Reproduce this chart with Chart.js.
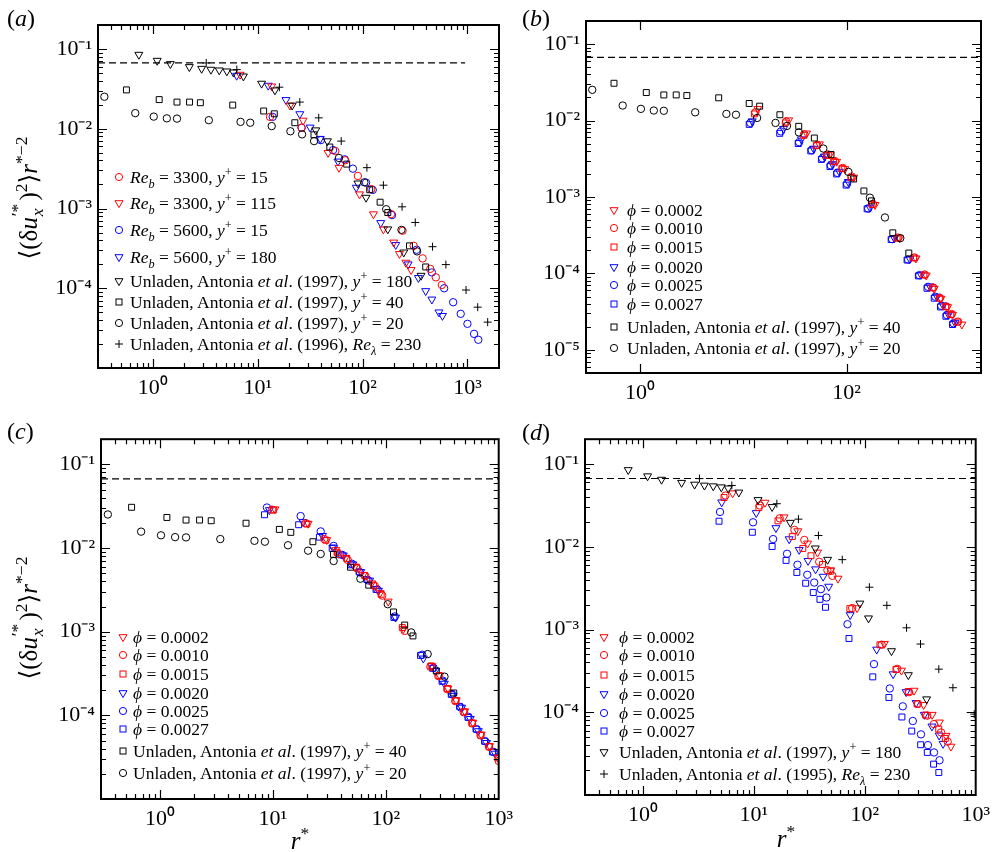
<!DOCTYPE html>
<html>
<head>
<meta charset="utf-8">
<title>Second-order structure function</title>
<script src="https://cdn.jsdelivr.net/npm/chart.js@4.4.1/dist/chart.umd.min.js"></script>
<style>
  html, body { margin: 0; padding: 0; background: #fff; }
  body { position: relative; width: 997px; height: 852px; overflow: hidden;
         font-family: "Liberation Serif", "DejaVu Serif", serif; color: #000; }
  canvas { position: absolute; }
  .txt { position: absolute; white-space: nowrap; }
  .tag { font-size: 24px; line-height: 24px; }
  .ytitle { font-size: 25px; line-height: 25px; transform: translate(-50%, -50%) rotate(-90deg); }
  .xtitle { font-size: 25px; line-height: 25px; transform: translate(-50%, -50%); }
  .row { position: absolute; height: 20px; display: flex; align-items: center;
         white-space: nowrap; font-size: 17.5px; line-height: 20px; }
  .row svg { flex: none; }
  sub, sup { font-size: 0.7em; line-height: 0; }
  .ss { display: inline-block; position: relative; width: 0.95em; height: 1em; font-size: 0.7em; }
  .ss .sp { position: absolute; left: 0.05em; top: -0.6em; line-height: 1; }
  .ss .sb { position: absolute; left: 0.05em; top: 0.55em; line-height: 1; }
</style>
</head>
<body>
<canvas id="pa"></canvas>
<canvas id="pb"></canvas>
<canvas id="pc"></canvas>
<canvas id="pd"></canvas>

<div class="txt tag" style="left:7px; top:6px">(<i>a</i>)</div>
<div class="txt tag" style="left:522px; top:6px">(<i>b</i>)</div>
<div class="txt tag" style="left:7px; top:419px">(<i>c</i>)</div>
<div class="txt tag" style="left:522px; top:420px">(<i>d</i>)</div>

<div class="txt ytitle" style="left:28px; top:198px">⟨(δ<i>u</i><span class="ss"><span class="sp">′*</span><span class="sb"><i>x</i></span></span>)<sup>2</sup>⟩<i>r</i><sup>*−2</sup></div>
<div class="txt ytitle" style="left:28px; top:618px">⟨(δ<i>u</i><span class="ss"><span class="sp">′*</span><span class="sb"><i>x</i></span></span>)<sup>2</sup>⟩<i>r</i><sup>*−2</sup></div>
<div class="txt xtitle" style="left:300px; top:840px"><i>r</i><sup>*</sup></div>
<div class="txt xtitle" style="left:786px; top:838px"><i>r</i><sup>*</sup></div>

<div id="legends"></div>

<script>
// ---- axis ranges and tick labels ----
const xRangeA = [0.3, 2000], yRangeA = [1e-5, 0.2];
const xRangeB = [0.3, 2000], yRangeB = [5e-6, 0.2];
const xRangeC = [0.3, 1000], yRangeC = [1e-5, 0.2];
const xRangeD = [0.3, 1000], yRangeD = [1e-5, 0.2];
const xTicksA = [1, 10, 100, 1000], yTicksA = [1e-1, 1e-2, 1e-3, 1e-4];
const xTicksB = [1, 100], yTicksB = [1e-1, 1e-2, 1e-3, 1e-4, 1e-5];
const xTicksC = [1, 10, 100, 1000], yTicksC = [1e-1, 1e-2, 1e-3, 1e-4];
const xTicksD = [1, 10, 100, 1000], yTicksD = [1e-1, 1e-2, 1e-3, 1e-4];

// dashed plateau level
const plateauY = 0.067;

// ---- unladen reference data (Antonia et al.) ----
const unl180X = [0.736, 1.10, 1.47, 2.23, 2.92, 3.58, 4.30, 5.08, 5.87, 7.31, 10.9, 14.6, 21.3, 35.8, 46.2, 90.3, 108, 174, 247, 361];
const unl180Y = [0.085, 0.0715, 0.065, 0.0596, 0.0567, 0.0552, 0.0541, 0.0526, 0.051, 0.0455, 0.0369, 0.0304, 0.0196, 0.0096, 0.0070, 0.00207, 0.00137, 0.00055, 0.000282, 0.000144];
const unl40X = [0.56, 1.15, 1.70, 2.24, 2.84, 5.78, 11.4, 14.4, 22.6, 34.4, 48.7, 70.6, 117, 147, 174, 280, 400];
const unl40Y = [0.0307, 0.0232, 0.0216, 0.0216, 0.0212, 0.0198, 0.0167, 0.0154, 0.0119, 0.0084, 0.0059, 0.0036, 0.00172, 0.0012, 0.00089, 0.00034, 0.000185];
const unl20X = [0.345, 0.68, 1.02, 1.36, 1.70, 3.42, 6.86, 8.49, 13.6, 20.5, 26.5, 34.5, 59.5, 104, 168, 235, 331];
const unl20Y = [0.0252, 0.0157, 0.0142, 0.0135, 0.0134, 0.0128, 0.0122, 0.0119, 0.0108, 0.0093, 0.0085, 0.0070, 0.0043, 0.00213, 0.00098, 0.00054, 0.00029];
const unl230X = [3.23, 6.32, 16.1, 25.2, 38.2, 62.6, 110, 158, 238, 318, 465, 623, 970, 1253, 1560];
const unl230Y = [0.0668, 0.0552, 0.0332, 0.0216, 0.0137, 0.0070, 0.00325, 0.00196, 0.00105, 0.000668, 0.000332, 0.000198, 0.000095, 0.0000579, 0.0000376];

// ---- panel (a): two Reynolds numbers ----
const a3300y15X = [13.1, 26.2, 55, 68.4, 90.2, 121, 187, 241, 307, 374, 442, 500, 570];
const a3300y15Y = [0.0141, 0.0103, 0.00526, 0.00402, 0.00256, 0.00175, 0.00085, 0.000526, 0.000341, 0.000237, 0.000175, 0.000137, 0.00011];
const a3300y115X = [6.8, 13.6, 20.3, 27.1, 46.9, 59.6, 93.6, 127, 158, 198, 225, 259, 290];
const a3300y115Y = [0.0478, 0.0341, 0.0196, 0.0127, 0.0050, 0.00325, 0.00151, 0.00085, 0.00055, 0.000376, 0.00027, 0.00021, 0.00017];
const a5600y15X = [13.9, 26.2, 40, 52.3, 67.4, 80.9, 108, 125, 191, 328, 458, 600, 731, 863, 1000, 1157, 1270];
const a5600y15Y = [0.0141, 0.0103, 0.0072, 0.0054, 0.00414, 0.00316, 0.00211, 0.00171, 0.000826, 0.000304, 0.000158, 0.0001, 0.0000668, 0.0000478, 0.0000358, 0.0000268, 0.0000226];
const a5600y180X = [6.3, 12.6, 18.6, 25.2, 31.6, 39.5, 58.3, 87, 149, 207, 272, 341, 400, 458, 535, 578];
const a5600y180Y = [0.0464, 0.0348, 0.023, 0.0153, 0.0104, 0.0075, 0.0039, 0.00183, 0.00066, 0.00035, 0.0002, 0.000135, 0.0000925, 0.0000725, 0.00005, 0.0000452];

// ---- panel (b) ----
const b02X = [13.8, 27.5, 41, 54.5, 69, 80, 96, 117, 188, 326, 470, 590, 705, 820, 950, 1060, 1306];
const b02Y = [0.0142, 0.0101, 0.0068, 0.0049, 0.0036, 0.0029, 0.00233, 0.0018, 0.00079, 0.00029, 0.000158, 0.0000945, 0.0000635, 0.000047, 0.0000365, 0.000029, 0.0000216];
const b10X = [13.1, 26, 39, 52, 66, 77, 92, 112, 180, 314, 455, 570, 690, 800, 925, 1040, 1200];
const b10Y = [0.0128, 0.0097, 0.0066, 0.0048, 0.0036, 0.00295, 0.0024, 0.00185, 0.00081, 0.000295, 0.000162, 0.000097, 0.0000655, 0.000048, 0.000037, 0.0000295, 0.0000235];
const b15X = [12.8, 25.5, 38.5, 51, 64, 75, 90, 110, 176, 308, 445, 560, 675, 790, 910, 1020, 1180];
const b15Y = [0.0122, 0.0093, 0.0064, 0.0047, 0.0035, 0.0029, 0.00235, 0.0018, 0.0008, 0.00029, 0.00016, 0.0000955, 0.000065, 0.0000475, 0.0000368, 0.0000292, 0.0000232];
const b20X = [12.2, 24.5, 36.5, 48, 61, 73, 85, 104, 168, 290, 410, 525, 640, 750, 860, 970, 1120];
const b20Y = [0.0098, 0.0078, 0.0057, 0.0043, 0.0034, 0.0027, 0.00215, 0.00158, 0.00073, 0.00029, 0.000155, 0.0000965, 0.000068, 0.00005, 0.0000385, 0.0000292, 0.0000228];
const b25X = [11.7, 23.1, 34.7, 45.9, 58.2, 70.1, 81.3, 101, 162, 276, 394, 506, 614, 722, 825, 936, 1084];
const b25Y = [0.0093, 0.0072, 0.0052, 0.0041, 0.0032, 0.0026, 0.00207, 0.00149, 0.000705, 0.000281, 0.000152, 0.000095, 0.0000669, 0.0000497, 0.0000378, 0.0000286, 0.0000223];
const b27X = [11.4, 22.5, 34, 45, 57, 69, 80, 99, 158, 270, 385, 495, 600, 705, 810, 915, 1060];
const b27Y = [0.0089, 0.0068, 0.005, 0.004, 0.0031, 0.0025, 0.002, 0.00143, 0.0007, 0.000278, 0.00015, 0.000093, 0.000064, 0.0000475, 0.0000365, 0.0000276, 0.0000215];

// ---- panel (c) ----
const c02X = [10.4, 20.5, 30, 36, 44, 53, 63, 75, 89, 105, 143, 255, 300, 355, 420, 500, 590, 700, 830, 990];
const c02Y = [0.0291, 0.0196, 0.0125, 0.0095, 0.0077, 0.0060, 0.0048, 0.0038, 0.0029, 0.0023, 0.00108, 0.00039, 0.0003, 0.00021, 0.000152, 0.000112, 0.000082, 0.000059, 0.000043, 0.000031];
const c10X = [9.8, 19.5, 28.5, 38, 46, 56, 66, 80, 93, 147, 248, 292, 350, 412, 490, 580, 690, 820, 1000];
const c10Y = [0.0288, 0.0198, 0.0128, 0.0085, 0.0072, 0.0057, 0.0046, 0.0035, 0.0027, 0.00102, 0.00038, 0.000295, 0.000205, 0.000148, 0.000109, 0.00008, 0.0000575, 0.000042, 0.0000285];
const c15X = [10.1, 20, 29.5, 37, 45, 55, 65, 78, 91, 140, 252, 296, 352, 418, 495, 585, 695, 825, 985];
const c15Y = [0.0286, 0.0194, 0.0124, 0.0089, 0.0075, 0.0059, 0.0047, 0.0036, 0.0028, 0.00112, 0.00039, 0.0003, 0.00021, 0.00015, 0.00011, 0.000081, 0.000058, 0.0000425, 0.000031];
const c20X = [9.3, 18.5, 27.5, 34, 42, 51, 60, 72, 86, 122, 215, 275, 330, 395, 470, 560, 660, 780, 930];
const c20Y = [0.0285, 0.0205, 0.014, 0.0102, 0.0082, 0.0064, 0.0052, 0.0041, 0.0031, 0.00148, 0.00048, 0.00034, 0.00024, 0.000172, 0.000124, 0.000091, 0.000065, 0.000047, 0.000035];
const c25X = [8.85, 17.6, 26.5, 34.5, 41, 50, 59, 70, 84, 120, 210, 265, 320, 385, 460, 540, 640, 760, 900];
const c25Y = [0.0305, 0.0241, 0.0158, 0.0106, 0.0083, 0.0065, 0.0051, 0.0041, 0.0032, 0.00152, 0.00053, 0.00037, 0.00026, 0.00018, 0.000124, 0.000096, 0.000068, 0.000049, 0.0000365];
const c27X = [8.43, 16.9, 25.8, 33.5, 40, 49, 58, 68, 82, 118, 203, 260, 315, 380, 450, 535, 630, 750, 880];
const c27Y = [0.025, 0.019, 0.0135, 0.0099, 0.0083, 0.0063, 0.0052, 0.0042, 0.0032, 0.00148, 0.00052, 0.000365, 0.000255, 0.000178, 0.000128, 0.0000945, 0.0000685, 0.000049, 0.0000365];

// ---- panel (d) ----
const d02X = [6.43, 12.6, 18.7, 24.9, 30.5, 37.5, 49.3, 57.3, 85.2, 150, 214, 278, 339, 405, 471, 540, 598];
const d02Y = [0.0445, 0.0343, 0.0228, 0.0155, 0.011, 0.00856, 0.00522, 0.00414, 0.00182, 0.000674, 0.00032, 0.000183, 0.000123, 0.0000935, 0.0000755, 0.0000521, 0.0000386];
const d10X = [5.53, 11.3, 17.1, 23.2, 28.5, 38.8, 46, 51, 76.9, 142, 196, 251, 302, 366, 420, 487, 559];
const d10Y = [0.0417, 0.0316, 0.0221, 0.016, 0.0121, 0.00659, 0.00522, 0.00446, 0.00182, 0.000655, 0.000335, 0.000175, 0.000126, 0.000091, 0.000072, 0.0000571, 0.0000441];
const d15X = [5.38, 11.1, 16.5, 22.2, 27.6, 32.7, 41.6, 49.3, 73.3, 137, 191, 246, 296, 353, 464, 532];
const d15Y = [0.0394, 0.0298, 0.0206, 0.0133, 0.00957, 0.0078, 0.00612, 0.00508, 0.00179, 0.000655, 0.000329, 0.000178, 0.000126, 0.0000927, 0.0000627, 0.0000483];
const d20X = [5.13, 10.5, 15.8, 20.8, 25.6, 30.8, 36, 42.1, 47.3, 73.8, 128, 180, 236, 290, 344, 403, 468, 508];
const d20Y = [0.0346, 0.0257, 0.0169, 0.0124, 0.00922, 0.00678, 0.00537, 0.00437, 0.00331, 0.0015, 0.000575, 0.000289, 0.000176, 0.00013, 0.0000935, 0.0000676, 0.0000526, 0.0000417];
const d25X = [4.95, 9.82, 14.9, 19.9, 24.7, 30.3, 35, 40.2, 45.1, 69.8, 121, 168, 220, 271, 321, 371, 421, 472];
const d25Y = [0.0264, 0.0198, 0.0124, 0.00824, 0.00607, 0.00459, 0.0037, 0.00308, 0.00244, 0.00116, 0.000382, 0.000194, 0.000118, 0.0000784, 0.0000541, 0.0000401, 0.0000327, 0.0000263];
const d27X = [4.85, 9.68, 14.6, 19.5, 24.4, 29.3, 34.3, 39.4, 44.2, 72, 118, 165, 216, 265, 319, 366, 417, 465];
const d27Y = [0.0204, 0.015, 0.0101, 0.00685, 0.0049, 0.00363, 0.0028, 0.00232, 0.00186, 0.00078, 0.000268, 0.000151, 0.0000877, 0.0000593, 0.0000405, 0.0000327, 0.0000236, 0.0000187];

// ---- styling ----
const red = '#ff0000', blue = '#0000ff', black = '#000000';
const tickFont = "'Liberation Serif', 'Times New Roman', serif";
const marks = {
  circ: { pointStyle: 'circle', pointRadius: 3.7, pointRotation: 0 },
  tri: { pointStyle: 'triangle', pointRadius: 4.6, pointRotation: 180 },
  sq: { pointStyle: 'rect', pointRadius: 4.2, pointRotation: 0 },
  plus: { pointStyle: 'cross', pointRadius: 4, pointRotation: 0 }
};

const supDigits = { '0': '⁰', '1': '¹', '2': '²', '3': '³', '4': '⁴', '5': '⁵', '6': '⁶', '-': '⁻' };
function powLabel(v) {
  const e = Math.round(Math.log10(v));
  return '10' + String(e).split('').map(c => supDigits[c]).join('');
}

function series(xs, ys, shape, color) {
  return Object.assign({
    type: 'scatter',
    data: xs.map((x, i) => ({ x: x, y: ys[i] })),
    borderColor: color,
    backgroundColor: 'rgba(0,0,0,0)',
    borderWidth: 1,
    showLine: false
  }, marks[shape]);
}

function dashed(x0, x1) {
  return {
    type: 'line',
    data: [{ x: x0, y: plateauY }, { x: x1, y: plateauY }],
    borderColor: black, borderWidth: 1.2, borderDash: [7, 4],
    pointRadius: 0, fill: false
  };
}

// tick positions along a log axis: majors from the label list, optional 2..9 minors
function logMarks(min, max, majors, withMinor) {
  const out = [];
  for (let n = Math.floor(Math.log10(min)); n <= Math.ceil(Math.log10(max)); n++) {
    for (let k = 1; k <= 9; k++) {
      const v = k * Math.pow(10, n);
      if (v <= min * 1.001 || v >= max * 0.999) continue;
      if (k === 1) {
        if (majors.some(m => Math.abs(m - v) / v < 1e-6)) out.push({ v: v, major: true });
        else if (withMinor) out.push({ v: v, major: true });
      } else if (withMinor) {
        out.push({ v: v, major: false });
      }
    }
  }
  return out;
}

// box frame with inward ticks on all four sides
const framePlugin = {
  id: 'frame',
  afterDatasetsDraw(chart, args, opts) {
    const { ctx, chartArea: a } = chart;
    const x = chart.scales.x, y = chart.scales.y;
    ctx.save();
    ctx.strokeStyle = '#000';
    ctx.lineWidth = 1.2;
    ctx.beginPath();
    logMarks(x.min, x.max, opts.xMajor, opts.xMinor).forEach(m => {
      const p = Math.round(x.getPixelForValue(m.v)) + 0.5;
      const len = m.major ? 9 : 5;
      ctx.moveTo(p, a.bottom); ctx.lineTo(p, a.bottom - len);
      ctx.moveTo(p, a.top); ctx.lineTo(p, a.top + len);
    });
    logMarks(y.min, y.max, opts.yMajor, true).forEach(m => {
      const p = Math.round(y.getPixelForValue(m.v)) + 0.5;
      const len = m.major ? 9 : 5;
      ctx.moveTo(a.left, p); ctx.lineTo(a.left + len, p);
      ctx.moveTo(a.right, p); ctx.lineTo(a.right - len, p);
    });
    ctx.stroke();
    ctx.lineWidth = 2;
    ctx.strokeRect(a.left, a.top, a.right - a.left, a.bottom - a.top);
    ctx.restore();
  }
};

function makePanel(p) {
  const cv = document.getElementById(p.id);
  cv.width = p.w;
  cv.height = p.h;
  cv.style.left = p.left + 'px';
  cv.style.top = p.top + 'px';
  cv.style.width = p.w + 'px';
  cv.style.height = p.h + 'px';
  return new Chart(cv.getContext('2d'), {
    type: 'scatter',
    data: { datasets: p.datasets },
    options: {
      responsive: false,
      animation: false,
      devicePixelRatio: 1,
      layout: { padding: p.pad },
      plugins: {
        legend: { display: false },
        tooltip: { enabled: false },
        frame: { xMajor: p.xTicks, yMajor: p.yTicks, xMinor: p.xMinor }
      },
      scales: {
        x: {
          type: 'logarithmic', min: p.xRange[0], max: p.xRange[1],
          grid: { display: false, drawTicks: false },
          border: { display: false },
          ticks: { font: { family: tickFont, size: 22 }, color: '#000', padding: 7,
                   autoSkip: false, maxRotation: 0, minRotation: 0, callback: v => powLabel(v) },
          afterBuildTicks: s => { s.ticks = p.xTicks.map(v => ({ value: v })); },
          afterFit: s => { s.height = p.xh; }
        },
        y: {
          type: 'logarithmic', min: p.yRange[0], max: p.yRange[1],
          grid: { display: false, drawTicks: false },
          border: { display: false },
          ticks: { font: { family: tickFont, size: 22 }, color: '#000', padding: 6,
                   autoSkip: false, callback: v => powLabel(v) },
          afterBuildTicks: s => { s.ticks = p.yTicks.map(v => ({ value: v })); },
          afterFit: s => { s.width = p.yw; }
        }
      }
    },
    plugins: [framePlugin]
  });
}

makePanel({
  id: 'pa', left: 0, top: 0, w: 520, h: 420,
  pad: { left: 10, top: 25, right: 21, bottom: 12 }, yw: 88, xh: 40,
  xRange: xRangeA, yRange: yRangeA, xTicks: xTicksA, yTicks: yTicksA, xMinor: true,
  datasets: [
    dashed(0.3, 950),
    series(unl180X, unl180Y, 'tri', black),
    series(unl40X, unl40Y, 'sq', black),
    series(unl20X, unl20Y, 'circ', black),
    series(unl230X, unl230Y, 'plus', black),
    series(a3300y15X, a3300y15Y, 'circ', red),
    series(a3300y115X, a3300y115Y, 'tri', red),
    series(a5600y15X, a5600y15Y, 'circ', blue),
    series(a5600y180X, a5600y180Y, 'tri', blue)
  ]
});

makePanel({
  id: 'pb', left: 520, top: 0, w: 477, h: 420,
  pad: { left: 0, top: 21, right: 16, bottom: 10 }, yw: 66, xh: 37,
  xRange: xRangeB, yRange: yRangeB, xTicks: xTicksB, yTicks: yTicksB, xMinor: false,
  datasets: [
    dashed(0.3, 2000),
    series(unl40X, unl40Y, 'sq', black),
    series(unl20X, unl20Y, 'circ', black),
    series(b02X, b02Y, 'tri', red),
    series(b10X, b10Y, 'circ', red),
    series(b15X, b15Y, 'sq', red),
    series(b20X, b20Y, 'tri', blue),
    series(b25X, b25Y, 'circ', blue),
    series(b27X, b27Y, 'sq', blue)
  ]
});

makePanel({
  id: 'pc', left: 0, top: 420, w: 520, h: 432,
  pad: { left: 10, top: 17, right: 21, bottom: 13 }, yw: 91, xh: 40,
  xRange: xRangeC, yRange: yRangeC, xTicks: xTicksC, yTicks: yTicksC, xMinor: true,
  datasets: [
    dashed(0.3, 1000),
    series(unl40X, unl40Y, 'sq', black),
    series(unl20X, unl20Y, 'circ', black),
    series(c02X, c02Y, 'tri', red),
    series(c10X, c10Y, 'circ', red),
    series(c15X, c15Y, 'sq', red),
    series(c20X, c20Y, 'tri', blue),
    series(c25X, c25Y, 'circ', blue),
    series(c27X, c27Y, 'sq', blue)
  ]
});

makePanel({
  id: 'pd', left: 520, top: 420, w: 477, h: 432,
  pad: { left: 0, top: 19, right: 16, bottom: 17 }, yw: 65, xh: 40,
  xRange: xRangeD, yRange: yRangeD, xTicks: xTicksD, yTicks: yTicksD, xMinor: true,
  datasets: [
    dashed(0.3, 1000),
    series(unl180X, unl180Y, 'tri', black),
    series(unl230X, unl230Y, 'plus', black),
    series(d02X, d02Y, 'tri', red),
    series(d10X, d10Y, 'circ', red),
    series(d15X, d15Y, 'sq', red),
    series(d20X, d20Y, 'tri', blue),
    series(d25X, d25Y, 'circ', blue),
    series(d27X, d27Y, 'sq', blue)
  ]
});

// ---- legends (HTML text, small SVG markers) ----
const yPlus = '<i>y</i><sup>+</sup>';
const etal = 'Unladen, Antonia <i>et al</i>.';
const phiRows = [
  ['tri', red, '<i>ϕ</i> = 0.0002'],
  ['circ', red, '<i>ϕ</i> = 0.0010'],
  ['sq', red, '<i>ϕ</i> = 0.0015'],
  ['tri', blue, '<i>ϕ</i> = 0.0020'],
  ['circ', blue, '<i>ϕ</i> = 0.0025'],
  ['sq', blue, '<i>ϕ</i> = 0.0027']
];
const legendA = [
  ['circ', red, '<i>Re<sub>b</sub></i> = 3300, ' + yPlus + ' = 15'],
  ['tri', red, '<i>Re<sub>b</sub></i> = 3300, ' + yPlus + ' = 115'],
  ['circ', blue, '<i>Re<sub>b</sub></i> = 5600, ' + yPlus + ' = 15'],
  ['tri', blue, '<i>Re<sub>b</sub></i> = 5600, ' + yPlus + ' = 180'],
  ['tri', black, etal + ' (1997), ' + yPlus + ' = 180'],
  ['sq', black, etal + ' (1997), ' + yPlus + ' = 40'],
  ['circ', black, etal + ' (1997), ' + yPlus + ' = 20'],
  ['plus', black, etal + ' (1996), <i>Re<sub>λ</sub></i> = 230']
];
const legendBC = phiRows.concat([
  ['sq', black, etal + ' (1997), ' + yPlus + ' = 40'],
  ['circ', black, etal + ' (1997), ' + yPlus + ' = 20']
]);
const legendD = phiRows.concat([
  ['tri', black, etal + ' (1997), ' + yPlus + ' = 180'],
  ['plus', black, etal + ' (1995), <i>Re<sub>λ</sub></i> = 230']
]);

function markerSvg(shape, color) {
  let s = '';
  if (shape === 'circ') s = '<circle cx="6" cy="6" r="3.6"/>';
  if (shape === 'tri') s = '<polygon points="2,3.7 10,3.7 6,10.6"/>';
  if (shape === 'sq') s = '<rect x="3" y="3" width="6" height="6"/>';
  if (shape === 'plus') s = '<path d="M6 2V10M2 6H10"/>';
  return '<svg width="12" height="12" viewBox="0 0 12 12" fill="none" stroke="' + color +
    '" stroke-width="1">' + s + '</svg>';
}

function drawLegend(rows, mx, tx, ys) {
  const box = document.getElementById('legends');
  rows.forEach((r, i) => {
    const div = document.createElement('div');
    div.className = 'row';
    div.style.left = (mx - 6) + 'px';
    div.style.top = (ys[i] - 10) + 'px';
    div.innerHTML = markerSvg(r[0], r[1]) +
      '<span style="margin-left:' + (tx - mx - 6) + 'px">' + r[2] + '</span>';
    box.appendChild(div);
  });
}

drawLegend(legendA, 119, 130, [177, 203, 230, 257, 281, 302, 323, 344]);
drawLegend(legendBC, 614, 627, [210, 228, 247, 267, 285, 304, 327, 348]);
drawLegend(legendBC, 123, 133, [637, 655, 674, 693, 711, 729, 751, 773]);
drawLegend(legendD, 604, 619, [637, 655, 675, 694, 713, 731, 752, 774]);
</script>
</body>
</html>
